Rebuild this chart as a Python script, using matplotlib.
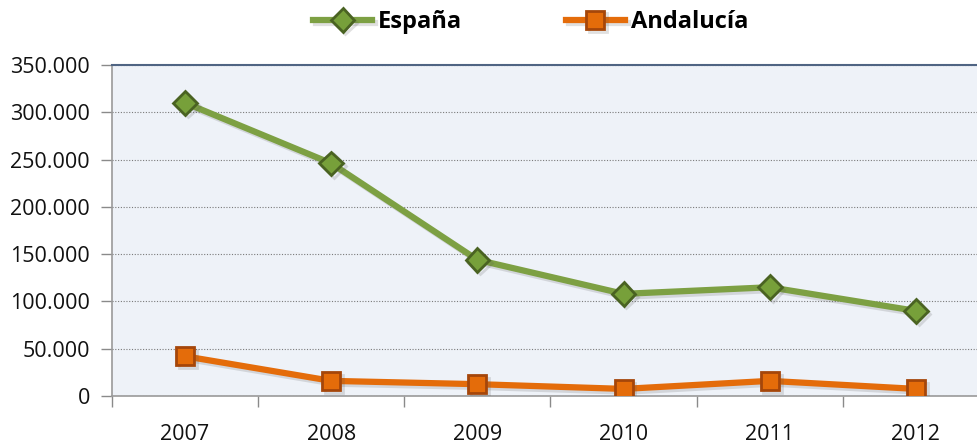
import matplotlib
matplotlib.use("Agg")
import matplotlib.pyplot as plt
import matplotlib.patheffects as pe
from matplotlib.ticker import FuncFormatter, FixedLocator

years = ["2007", "2008", "2009", "2010", "2011", "2012"]
espana = [310000, 246000, 144000, 108000, 115000, 90000]
andalucia = [42000, 16000, 12500, 7500, 16000, 7500]

plt.rcParams['font.family'] = ['Open Sans', 'DejaVu Sans']

fig = plt.figure(figsize=(9.78, 4.45), dpi=100)
ax = fig.add_axes([112/978, 1-396/445, (989-112)/978, (396-65)/445])
ax.set_facecolor('#EEF2F8')

x = list(range(len(years)))
shadow = [pe.SimpleLineShadow(offset=(2, -2), alpha=0.18, shadow_color='#555555'), pe.Normal()]
ax.plot(x, espana, color='#7DA043', lw=4.5, marker='D', ms=12, mfc='#77A03A',
        mec='#4A6322', mew=2, label='España', path_effects=shadow, zorder=3)
ax.plot(x, andalucia, color='#E46C0A', lw=4.5, marker='s', ms=13, mfc='#E46C0A',
        mec='#A5460A', mew=2, label='Andalucía', path_effects=shadow, zorder=3)

ax.set_xlim(-0.5, 5.5)
ax.set_ylim(0, 350000)
ax.set_yticks(range(0, 350001, 50000))
ax.yaxis.set_major_formatter(FuncFormatter(lambda v, p: f"{int(v):,}".replace(",", ".")))
ax.set_xticks(x)
ax.set_xticklabels(years)
ax.xaxis.set_minor_locator(FixedLocator([i + 0.5 for i in range(-1, 6)]))
ax.tick_params(axis='x', which='major', length=0, pad=20, labelsize=15.5, labelcolor='#111111')
ax.tick_params(axis='x', which='minor', length=8, width=1, color='#8a8a8a', direction='out')
ax.tick_params(axis='y', length=8, width=1, color='#8a8a8a', pad=8, labelsize=15.5, labelcolor='#111111')

ax.grid(axis='y', color='#7a7a7a', linestyle=(0, (1, 1.5)), lw=0.8)
ax.set_axisbelow(True)
ax.spines['top'].set_color('#4F6483')
ax.spines['top'].set_linewidth(1.5)
ax.spines['right'].set_visible(False)
ax.spines['left'].set_color('#9a9a9a')
ax.spines['left'].set_linewidth(1.2)
ax.spines['bottom'].set_color('#9a9a9a')
ax.spines['bottom'].set_linewidth(1.2)

leg = fig.legend(loc='center left', bbox_to_anchor=(313/978, 1-22/445), ncol=2, frameon=False,
                 prop={'weight': 'bold', 'size': 17}, handlelength=2.5, columnspacing=4.4,
                 handletextpad=0.25, borderpad=0, borderaxespad=0)

fig.savefig('out.png', dpi=100)
